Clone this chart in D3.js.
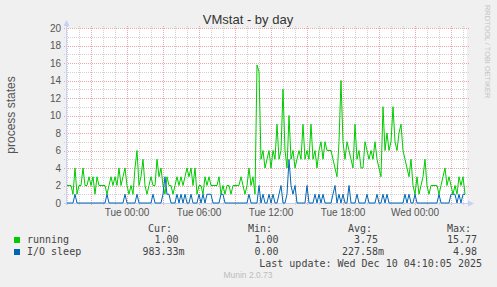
<!DOCTYPE html>
<html><head><meta charset="utf-8">
<script src="https://cdn.jsdelivr.net/npm/d3@7"></script>
<style>
html,body{margin:0;padding:0;background:#f0f0f0;}
svg{display:block;}
.sans{font-family:"Liberation Sans",Arial,sans-serif;}
.mono{font-family:"DejaVu Sans Mono",monospace;white-space:pre;}
</style></head><body>
<svg id="c" width="497" height="287"></svg>
<script>
// ---- data ----
const titleText = "VMstat - by day";
const yLabel = "process states";
const seriesNames = ["running", "I/O sleep"];
const seriesColors = ["#00cc00", "#0066b3"];
const startTime = Date.UTC(2025, 11, 8, 19, 0);   // Mon 19:00
const endTime = Date.UTC(2025, 11, 10, 4, 20);    // Wed 04:20
const stepMinutes = 10;
const running = [
  2,2,2,1,4,1,2,2,4,2,
  2,3,2,3,1,3,2,2,2,2,
  1,2,3,2,3,2,4,2,3,4,
  2,1,2,1,4,6,2,3,5,2,
  1,2,3,2,2,5,3,4,2,1,
  3,2,2,1,2,3,2,3,2,3,
  4,3,4,2,4,1,2,2,1,3,
  2,3,2,2,2,2,3,1,2,1,
  2,2,1,2,2,2,2,3,2,1,
  2,4,2,3,1,15.77,15,5,6,4,
  5,6,4,6,5,9,5,6,13,6,
  4,10,5,6,4,5,6,5,9,5,
  6,5,9,5,6,4,6,7,5,7,
  6,6,6,5,4,3,7,14,7,5,
  7,6,5,4,9,5,6,4,4,7,
  6,5,6,5,7,5,4,3,11,6,
  8,6,7,11,7,6,8,9,6,5,
  4,3,5,2,1,3,1,2,3,5,
  2,1,2,2,2,2,1,2,3,4,
  2,3,2,1,2,1,3,2,3,1
];
const ioSleep = [
  0,0,0,0,1,0,0,0,0,0,
  0,0,0,0,0,0,0,0,0,0,
  1,0,0,0,0,0,0,0,0,1,
  0,0,0,0,0,1,0,0,0,0,
  0,0,0,1,0,0,0,0,1,3,
  1,1,0,0,0,1,0,1,0,1,
  0,0,1,0,0,0,1,0,1,0,
  1,1,1,0,0,0,0,1,1,0,
  0,0,0,0,0,0,0,0,0,0,
  0,1,0,0,0,0,2,0,1,0,
  0,1,0,1,0,0,1,2,0,0,
  1,4.98,2,1,2,0,0,0,0,0,
  2,0,0,0,1,0,1,0,1,0,
  0,0,0,1,2,0,1,0,1,0,
  0,2,0,0,0,1,0,0,0,0,
  1,0,0,0,0,1,0,0,1,0,
  1,0,0,0,0,0,0,0,0,1,
  0,1,0,0,1,0,0,0,0,0,
  0,0,0,0,0,0,1,0,0,0,
  0,0,1,1,1,0,1,0,1,0.98
];
const yTicks = [0,2,4,6,8,10,12,14,16,18,20];
const statHeaders = ["Cur:", "Min:", "Avg:", "Max:"];
const runningStats = ["1.00", "1.00", "3.75", "15.77"];
const ioStats = ["983.33m", "0.00", "227.58m", "4.98"];
const lastUpdate = "Last update: Wed Dec 10 04:10:05 2025";
const footer = "Munin 2.0.73";
const watermark = "RRDTOOL / TOBI OETIKER";

// ---- drawing ----
const svg = d3.select("#c");
svg.append("rect").attr("width", 497).attr("height", 287).attr("fill", "#f0f0f0");

const L = 67, R = 467, T = 28, B = 203;
const x = d3.scaleUtc().domain([new Date(startTime), new Date(endTime)]).range([L, R]);
const y = d3.scaleLinear().domain([0, 20]).range([B, T]);

svg.append("rect").attr("x", L).attr("y", T).attr("width", R - L).attr("height", B - T).attr("fill", "#ffffff");

const grid = svg.append("g").attr("shape-rendering", "crispEdges").attr("stroke-dasharray", "1,1");
const minorCol = "#d2d2d2", majorCol = "#e6a8a8";
// horizontal minor
d3.range(1, 21).filter(v => v % 2 === 1).forEach(v => {
  const yy = Math.round(y(v)) + 0.5;
  grid.append("line").attr("x1", L - 3).attr("x2", R + 2).attr("y1", yy).attr("y2", yy).attr("stroke", minorCol);
});
// vertical minor
x.ticks(d3.utcHour.every(1)).forEach(t => {
  if (t.getUTCHours() % 3 === 0) return;
  const xx = Math.round(x(t)) + 0.5;
  grid.append("line").attr("x1", xx).attr("x2", xx).attr("y1", T - 2).attr("y2", B + 2).attr("stroke", minorCol);
});
// horizontal major
yTicks.filter(v => v > 0).forEach(v => {
  const yy = Math.round(y(v)) + 0.5;
  grid.append("line").attr("x1", L - 3).attr("x2", R + 2).attr("y1", yy).attr("y2", yy).attr("stroke", majorCol);
});
// vertical major
x.ticks(d3.utcHour.every(3)).forEach(t => {
  const xx = Math.round(x(t)) + 0.5;
  grid.append("line").attr("x1", xx).attr("x2", xx).attr("y1", T - 2).attr("y2", B + 2).attr("stroke", majorCol);
});

// axes
const axisCol = "#c8d0f4";
svg.append("line").attr("x1", L - 0.5).attr("x2", L - 0.5).attr("y1", B + 2).attr("y2", T - 4).attr("stroke", axisCol);
svg.append("line").attr("x1", L - 3).attr("x2", R + 4).attr("y1", B + 0.5).attr("y2", B + 0.5).attr("stroke", axisCol);
svg.append("path").attr("d", `M${L-3.5},${T-2}L${L+2.5},${T-2}L${L-0.5},${T-8}Z`).attr("fill", axisCol);
svg.append("path").attr("d", `M${R+1},${B-2.5}L${R+1},${B+3.5}L${R+7},${B+0.5}Z`).attr("fill", axisCol);

// y tick labels
yTicks.forEach(v => {
  svg.append("text").attr("class", "sans").attr("x", 61).attr("y", y(v)).attr("dy", "0.36em")
    .attr("text-anchor", "end").attr("font-size", 10).attr("fill", "#555").text(v);
});
// x tick labels
const fmt = d3.utcFormat("%a %H:%M");
x.ticks(d3.utcHour.every(6)).forEach(t => {
  svg.append("text").attr("class", "sans").attr("x", x(t)).attr("y", 216)
    .attr("text-anchor", "middle").attr("font-size", 10).attr("fill", "#555").text(fmt(t));
});

// series lines
const times = running.map((_, i) => new Date(startTime + i * stepMinutes * 60000));
const line = d3.line().x((d, i) => x(times[i])).y(d => y(d));
[running, ioSleep].forEach((s, k) => {
  svg.append("path").attr("d", line(s)).attr("fill", "none")
    .attr("stroke", seriesColors[k]).attr("stroke-width", 1).attr("stroke-linejoin", "miter");
});

// title, labels
svg.append("text").attr("class", "sans").attr("x", 248).attr("y", 24).attr("text-anchor", "middle")
  .attr("font-size", 13).attr("fill", "#333").text(titleText);
svg.append("text").attr("class", "sans").attr("transform", "translate(15,115) rotate(-90)")
  .attr("text-anchor", "middle").attr("font-size", 12).attr("fill", "#555").text(yLabel);
svg.append("text").attr("class", "sans").attr("transform", "translate(485,5) rotate(90)")
  .attr("text-anchor", "start").attr("font-size", 7.4).attr("fill", "#c4c4c4").text(watermark);

// legend
const colEnds = [178.5, 278.5, 378, 477];
const headX = [148, 248, 348, 447];
statHeaders.forEach((h, i) => {
  svg.append("text").attr("class", "mono").attr("x", headX[i]).attr("y", 232).attr("font-size", 10).attr("fill", "#444").text(h);
});
[runningStats, ioStats].forEach((st, r) => {
  const yy = 243 + r * 12;
  svg.append("rect").attr("x", 14).attr("y", yy - 6).attr("width", 6).attr("height", 6).attr("fill", seriesColors[r]);
  svg.append("text").attr("class", "mono").attr("x", 27).attr("y", yy).attr("font-size", 10).attr("fill", "#444").text(seriesNames[r]);
  st.forEach((v, i) => {
    const m = v.match(/^([\d.]+)(\D*)$/);
    svg.append("text").attr("class", "mono").attr("x", colEnds[i]).attr("y", yy).attr("text-anchor", "end")
      .attr("font-size", 10).attr("fill", "#444").text(m[1]);
    if (m[2]) svg.append("text").attr("class", "mono").attr("x", colEnds[i]).attr("y", yy)
      .attr("font-size", 10).attr("fill", "#444").text(m[2]);
  });
});
svg.append("text").attr("class", "mono").attr("x", 482).attr("y", 267).attr("text-anchor", "end")
  .attr("font-size", 10).attr("fill", "#444").text(lastUpdate);
svg.append("text").attr("class", "sans").attr("x", 248).attr("y", 278).attr("text-anchor", "middle")
  .attr("font-size", 8.5).attr("fill", "#bdbdbd").text(footer);
</script>
</body></html>
